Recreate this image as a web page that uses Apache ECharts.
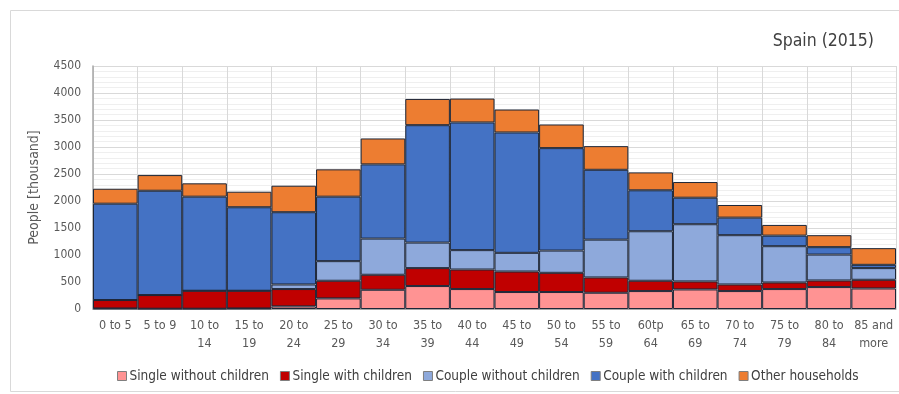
<!DOCTYPE html>
<html><head><meta charset="utf-8">
<script src="https://cdn.jsdelivr.net/npm/echarts@6/dist/echarts.min.js"></script>
<style>html,body{margin:0;padding:0;background:#fff}#c{width:899px;height:394px}</style>
</head><body><div id="c"></div>
<script>
const categories = ["0 to 5","5 to 9","10 to\n14","15 to\n19","20 to\n24","25 to\n29","30 to\n34","35 to\n39","40 to\n44","45 to\n49","50 to\n54","55 to\n59","60tp\n64","65 to\n69","70 to\n74","75 to\n79","80 to\n84","85 and\nmore"];
const singleWithout = [10, 5, 5, 10, 48, 196, 356, 425, 369, 314, 314, 301, 332, 362, 332, 369, 406, 380];
const singleWith    = [156, 253, 333, 328, 321, 327, 278, 332, 362, 380, 356, 283, 191, 148, 122, 122, 122, 161];
const coupleWithout = [0, 0, 0, 0, 85, 363, 670, 473, 359, 346, 412, 701, 917, 1060, 913, 672, 480, 216];
const coupleWith    = [1784, 1932, 1742, 1546, 1338, 1194, 1374, 2174, 2364, 2229, 1897, 1293, 758, 491, 325, 196, 137, 61];
const other         = [277, 290, 247, 288, 491, 506, 480, 486, 443, 425, 438, 438, 332, 290, 234, 198, 222, 309];
const yTicks = [0, 500, 1000, 1500, 2000, 2500, 3000, 3500, 4000, 4500];

const FONT = '"Liberation Sans Narrow", "DejaVu Sans Condensed", "Open Sans", sans-serif';
const chart = echarts.init(document.getElementById('c'));
function s(name, data, color) {
  return { name, type: 'bar', stack: 'all', data, barCategoryGap: 0,
    itemStyle: { color, borderColor: '#1d2637', borderWidth: 1 } };
}
chart.setOption({
  animation: false,
  textStyle: { fontFamily: FONT },
  title: { text: 'Spain (2015)', right: 20, top: 27,
    textStyle: { fontFamily: FONT, fontSize: 17.5, fontWeight: 'normal', color: '#404040' } },
  graphic: [{ type: 'rect', shape: { x: 10.5, y: 10.5, width: 900, height: 381 },
    style: { fill: 'none', stroke: '#d9d9d9', lineWidth: 1 }, silent: true, z: -1 }],
  legend: { bottom: 6, left: 112, itemWidth: 9, itemHeight: 9, itemGap: 11,
    icon: 'rect',
    itemStyle: { borderColor: '#7f7f7f', borderWidth: 1 },
    textStyle: { fontFamily: FONT, fontSize: 13.5, color: '#404040', padding: [0, 0, 0, -2] },
    data: ['Single without children','Single with children','Couple without children','Couple with children','Other households'] },
  grid: { left: 93, right: 3, top: 66, bottom: 85, containLabel: false },
  xAxis: { type: 'category', data: categories,
    axisLine: { show: true, lineStyle: { color: '#a6a6a6' } },
    axisTick: { show: false },
    splitLine: { show: true, lineStyle: { color: '#d9d9d9' } },
    axisLabel: { interval: 0, fontFamily: FONT, fontSize: 12.5, color: '#595959', lineHeight: 18, margin: 8 } },
  yAxis: { type: 'value', min: 0, max: 4500, interval: 500,
    name: 'People [thousand]', nameLocation: 'middle', nameGap: 52,
    nameTextStyle: { fontFamily: FONT, fontSize: 14, color: '#595959' },
    axisLine: { show: true, lineStyle: { color: '#a6a6a6', width: 1.5 } },
    axisTick: { show: false },
    axisLabel: { fontFamily: FONT, fontSize: 12, color: '#595959', margin: 12,
      formatter: v => yTicks.includes(v) ? String(v) : '' },
    splitLine: { lineStyle: { color: '#d9d9d9' } },
    minorTick: { show: false, splitNumber: 5 },
    minorSplitLine: { show: true, lineStyle: { color: '#efefef' } } },
  series: [
    s('Single without children', singleWithout, '#FF9393'),
    s('Single with children', singleWith, '#C00000'),
    s('Couple without children', coupleWithout, '#8EA9DB'),
    s('Couple with children', coupleWith, '#4472C4'),
    s('Other households', other, '#ED7D31')
  ]
});
</script></body></html>
